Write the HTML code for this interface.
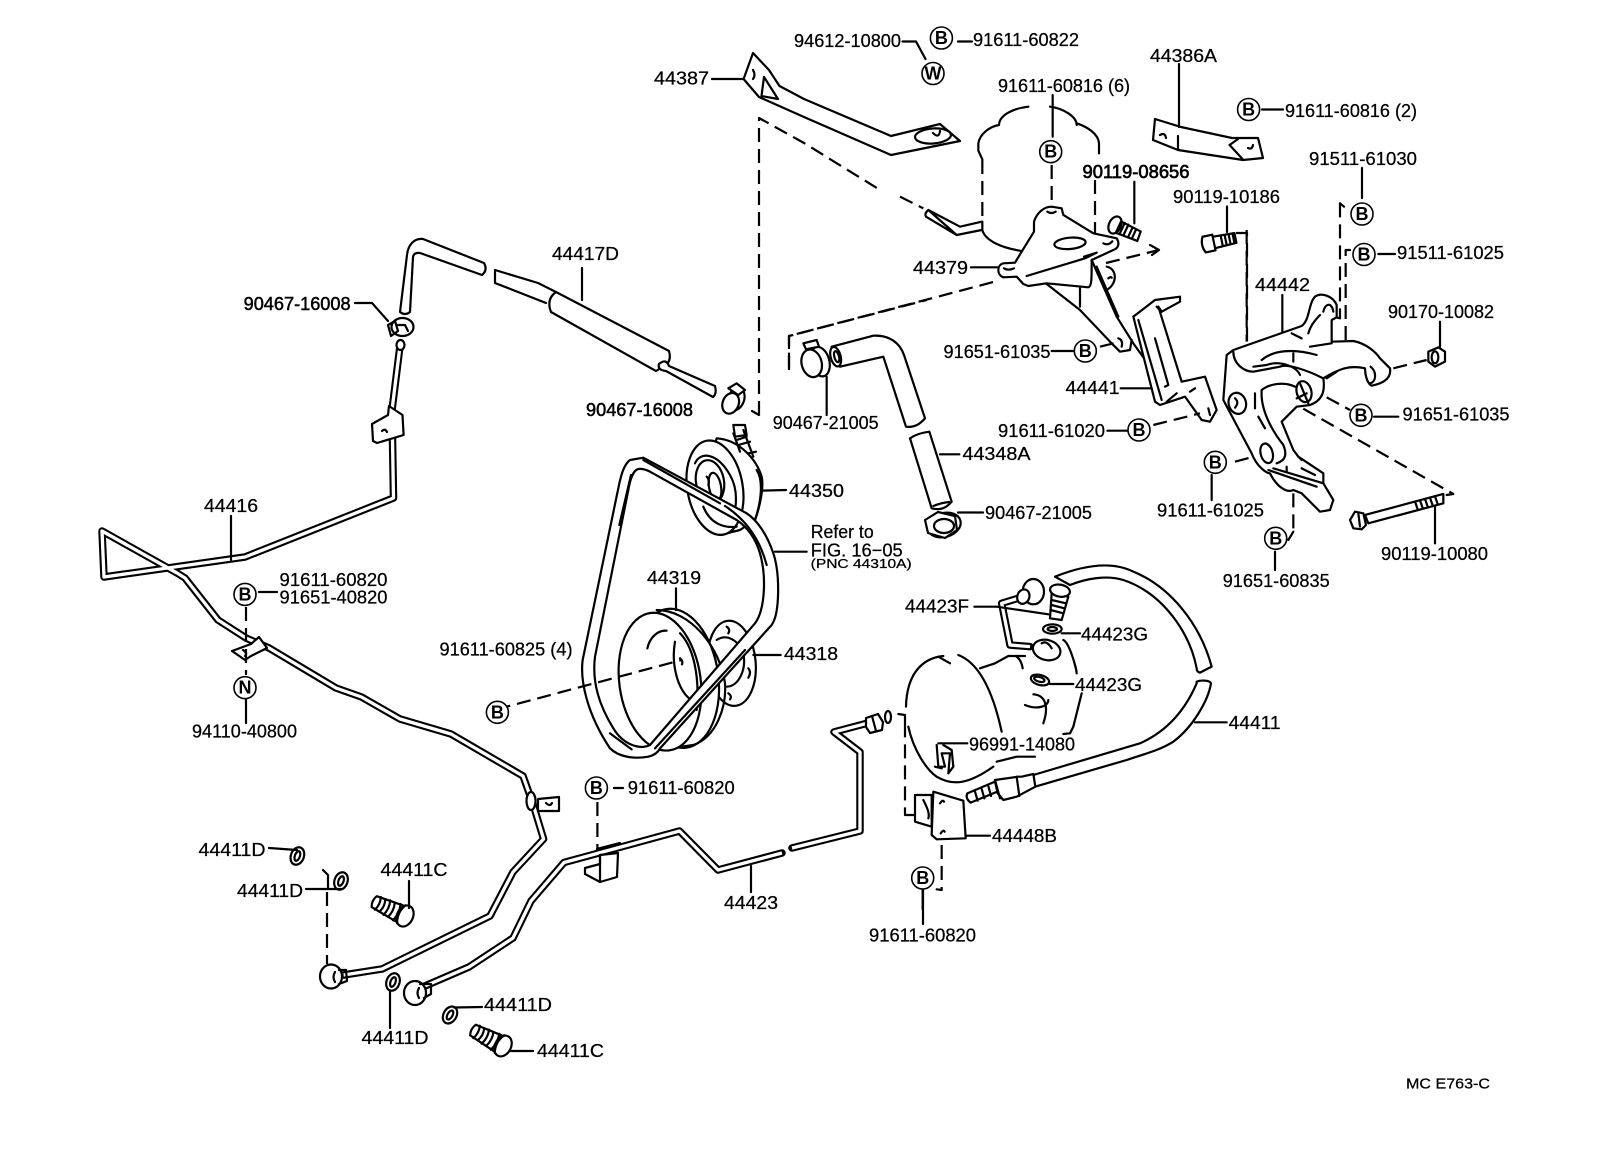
<!DOCTYPE html>
<html><head><meta charset="utf-8"><title>Power steering parts diagram</title>
<style>
html,body{margin:0;padding:0;background:#fff}
svg{display:block}
.g *{vector-effect:non-scaling-stroke;fill:none;stroke:#000;stroke-width:2.2;stroke-linejoin:round;stroke-linecap:round}
.g .w{fill:#fff}
.g .d{stroke-dasharray:14 7;stroke-linecap:butt}
.g .po{stroke-width:7.5}
.g .pi{stroke:#fff;stroke-width:3.3;stroke-linecap:butt}
.c{fill:#fff;stroke:#000;stroke-width:1.6}
text{font-family:"Liberation Sans",sans-serif;font-size:18.5px;fill:#000;stroke:#000;stroke-width:.25}
text.b{font-size:18px;font-weight:bold;text-anchor:middle;stroke:none}
text.s{font-size:12.5px}
</style></head><body>
<svg width="1608" height="1152" viewBox="0 0 1608 1152" xmlns="http://www.w3.org/2000/svg">
<rect width="1608" height="1152" fill="#fff"/>
<defs>
<g id="bolt" class="g">
<path class="w" d="M-34,-6 L-4,-9 L-4,9 L-34,6 Q-37,0 -34,-6Z"/>
<path d="M-30,-7 Q-27,0 -30,7 M-25,-7 Q-22,0 -25,7 M-20,-8 Q-17,0 -20,8 M-15,-8 Q-12,0 -15,8 M-9,-9 Q-6,0 -9,9"/>
<ellipse class="w" cx="0" cy="0" rx="8" ry="11"/>
<path d="M-4,-10 Q-9,0 -4,10"/>
</g>
<g id="washer" class="g"><ellipse class="w" rx="6.5" ry="9"/><ellipse rx="2.5" ry="5"/></g>
</defs>

<g class="g">
<path class="po" d="M400,346 L392,410 L393.5,498 L245,557 L104,577 L102,531 L177,573 L185,578 L218,620 L246,638 L269,648 L336,688 L361.5,697 L400,719 L451,734 L523,776 L533,804 L543.6,839 L513,872 L490,916 L382,969 L343.6,975"/>
<path class="pi" d="M400,346 L392,410 L393.5,498 L245,557 L104,577 L102,531 L177,573 L185,578 L218,620 L246,638 L269,648 L336,688 L361.5,697 L400,719 L451,734 L523,776 L533,804 L543.6,839 L513,872 L490,916 L382,969 L343.6,975"/>
<ellipse class="w" cx="400.5" cy="345" rx="4" ry="5"/>
<path class="po" d="M418,989 L469,967 L513,938 L531,901 L564,862.5 L679.5,831 L718,870 L782,853"/>
<path class="pi" d="M418,989 L469,967 L513,938 L531,901 L564,862.5 L679.5,831 L718,870 L782,853"/>
<path class="po" d="M792,848 L860,831 L860,752 L834,732 L868,723"/>
<path class="pi" d="M792,848 L860,831 L860,752 L834,732 L868,723"/>
<path class="w" d="M372,424 L388,415 L389,406 L402.5,415 L403.6,435 L377,443 L373,441Z"/><path d="M382,431 q3,-3 5,1"/>
<path class="w" d="M232,651 L251,644 L259,637 L267,648 L251,656 L245,660Z"/>
<path d="M243,650 q5,3 2,6"/>
<path class="w" d="M538,799 L559,797 L559,811 L538,811Z"/><ellipse class="w" cx="531" cy="801" rx="4.5" ry="9"/><path d="M546,803 q4,4 6,0"/>
<path class="w" d="M600,855 L618,853 L617,877 L600,882 L585,874 L585,868 L600,864Z"/><path d="M600,855 L600,882 M597,849 L620,843"/>
<ellipse class="w" cx="331" cy="976.5" rx="11" ry="12"/><path d="M335,972 q-3,5 0,10 M339,970 L346,970 L347,981 L339,984"/>
<ellipse class="w" cx="415" cy="993" rx="11" ry="12"/><path d="M419,988 q-3,5 0,10 M420,984 L431,984 L431,994 L424,998"/>
<use href="#washer" transform="translate(297.4,856) rotate(20)"/>
<use href="#washer" transform="translate(341,881) rotate(20)"/>
<use href="#washer" transform="translate(393,982) rotate(20)"/>
<use href="#washer" transform="translate(450,1015) rotate(30)"/>
<use href="#bolt" transform="translate(405,916) rotate(25)"/>
<use href="#bolt" transform="translate(503,1046) rotate(28)"/>
<path d="M355,303 L372,303 L388,321 M259,592 L277,592 M246,699 L246,723 M269,848 L297,850 M306,889 L341,889 M323,870 L328,875 L328,889 M390,991 L390,1028 M454,1007.5 L482,1007 M409,881 L409,908 M510,1051 L533,1051 M751,866 L751,892 M614,788 L623,788 M231,560 L231,516"/>
<path class="d" d="M246,607 L246,675 M327,892 L327,964 M597.4,802 L597.4,850"/>
<path class="w" d="M400,312 L407,255 C408,245 414,238 423,239 L484,263 Q488,270 482,275 L420,253 Q414,252 413,257 L410,312 Q405,316 400,312Z"/>
<path d="M495,270 L538,283 L556,292 M495,270 L495,283 L546,303"/>
<path class="w" d="M556,292 L669,351 Q672,362 664,366 L656,371 L551,312 Q546,299 556,292Z"/>
<path class="w" d="M659,364 Q666,358 669,366 L715,386 Q717,394 713,397 L666,371 Q657,370 659,364Z"/>
<path d="M582,268 L582,300"/>
<ellipse class="w" cx="402.5" cy="327" rx="11" ry="9"/><path d="M388,325 L395,321 L398,331 L391,336Z M397,325 L405,325 L408,331"/>
<path class="w" d="M743.6,79 L753,53 L769,70 L779.5,86 L804,99 L891,136 L940,124 L960,141 L891,155 L804,117 L759,97Z"/>
<path d="M753,70 q3,5 0,9 M764,77 L778,99 L761.5,96Z"/>
<ellipse cx="933" cy="136" rx="18" ry="7.5" transform="rotate(-4 933 136)"/><path d="M933,133 q6,6 7,-2"/>
<path d="M712,79 L743,79 M902.5,41.5 L916,41.5 L925.5,59 M958,41.5 L972,41.5 M1262,109.5 L1283,109.5 M1362,168 L1362,198 M1227,206.5 L1227,232"/>
<path class="d" d="M759,415 L759,118 L804,143 L880,190 M1236,233 L1247,233 L1247,343 M789,370 L789,336 L997,281 M1106,263 L1159,250"/>
<path d="M752,411 L759,415 M1159,250 L1150,245 M1159,250 L1152,255"/>
<path class="w" d="M1155,119 L1181,127 L1232,138 L1258,138 L1263,158 L1243,160 L1178,150 L1153,140Z"/>
<path d="M1178,136 L1178,149 M1229.6,145 L1242.5,159 M1229.6,145 L1238,139 M1160,135 q5,-3 6,3 M1248,148 q4,2 5,-3 M1179,64 L1179,127"/>
</g>

<g class="g" transform="translate(900,80) scale(.33333)">
<path d="M85,390 L170,465 L245,450 M85,390 L180,440 L245,425 M85,390 Q72,400 78,410 L170,465"/>
<path class="d" d="M0,350 L70,385"/>
<path d="M297,135 C298,105 340,85 385,80 M450,80 C490,85 530,110 530,135 M530,130 C560,140 595,160 597,190 L597,220 M297,135 C270,140 240,160 235,190 L235,212 L247,238"/>
<path class="d" d="M247,240 L247,425"/>
<path d="M247,425 L247,450 C255,480 300,505 380,515"/>
<path class="d" d="M585,300 L585,440"/>
<path d="M585,440 L585,465"/>
<path class="w" d="M455,380 C430,380 410,400 402,425 L402,455 L365,515 L345,548 L310,550 C290,555 290,585 310,592 L350,590 L370,612 L385,618 L440,610 L565,622 C575,620 575,600 575,540 L640,510 C655,505 660,490 650,475 L580,460 L490,405 L485,385 Z"/>
<path d="M380,588 L555,535 L590,518 M552,530 L590,518 M442,395 q12,8 25,0"/>
<ellipse class="w" cx="510" cy="490" rx="47" ry="17" transform="rotate(-5 510 490)"/>
<path d="M610,490 q15,8 27,-6 M312,565 q12,8 30,0"/>
<path d="M575,540 L650,710 L700,790 L750,860 M590,560 L655,710 M440,612 L540,690 L630,785 L660,815 L690,810 L695,780 M540,625 L540,680 M620,560 C650,565 655,610 620,630 M625,595 q6,-6 10,-2 M655,775 q15,5 10,25"/>
<path class="w" d="M700,710 L765,660 L840,650 L840,665 L785,695 L775,680 L845,905 L915,890 L950,990 L930,1025 L905,1020 L855,950 L780,975 L765,965Z"/>
<path d="M715,720 L785,960 M765,775 L805,915 L795,920 M770,680 L785,695 M800,965 L830,940 M870,935 L885,925 M925,985 L930,1005"/>
<path d="M458,45 L458,170 M213,562 L295,562 M455,813 L520,813 M622,1052 L685,1052 M662,925 L755,925 M703,305 L703,430"/>
<path class="d" d="M455,255 L455,380 M600,800 L660,785 M760,1035 L900,1000"/>
<g transform="translate(645,435) rotate(25) scale(3)"><path class="w" d="M0,-6 L26,-5 L27,5 L0,7Z"/><ellipse class="w" rx="6" ry="9"/><path d="M4,-6 L4,7 M8,-6 L8,6 M12,-6 L12,6 M17,-5 L17,5 M21,-5 L21,5"/></g>
<g transform="translate(930,490) rotate(-12) scale(3)"><path class="w" d="M0,-6 L26,-5 L26,5 L0,6Z"/><path class="w" d="M-6,-8 Q-10,0 -6,8 L4,8 L4,-8Z"/><path d="M12,-5 L12,5 M16,-5 L16,5 M20,-5 L20,5 M24,-5 L24,5"/></g>
</g>

<g class="g" transform="translate(1120,240) scale(.33333)">
<path class="d" d="M380,-30 L380,305 M660,-110 L660,235 M677,300 L677,30 M820,385 L920,360 M620,472 L690,510 M495,475 L1000,762 M345,665 L420,645 M520,760 L520,875"/>
<path d="M660,-110 L672,-100 M660,235 L640,230 M677,30 L690,30 M1000,762 L980,765 M520,875 L505,900"/>
<path class="w" d="M340,330 L545,258 C570,240 565,190 585,170 C605,155 640,170 650,195 L650,232 L635,240 L635,305 L700,303 C740,310 770,340 780,355 L810,385 C815,415 790,430 755,437 C740,430 735,400 735,385 C690,375 660,385 610,415 C615,450 610,480 570,495 L530,500 L485,545 L520,630 L535,650 L610,700 L610,730 L640,780 L630,810 L600,815 L545,760 L520,750 C500,760 470,740 450,700 C440,700 410,680 395,640 L310,480 L320,345Z"/>
<path d="M340,335 C340,370 370,395 400,395 L480,380 C500,370 560,390 610,415 M425,360 C460,330 520,325 590,345 M520,340 L520,365 M400,380 L440,375 C480,360 530,380 540,405 M570,320 L635,310 M565,280 C570,260 585,240 600,225 M515,280 L545,295 M610,215 C615,190 635,185 640,215 M620,415 L650,395 M752,380 C770,395 770,425 750,430"/>
<path d="M425,450 C420,520 470,590 490,615 C500,640 500,660 470,670 M425,450 C450,430 495,425 525,440 M405,460 L405,505 M415,530 L435,565 M535,650 L545,660 M445,690 L590,740 M460,685 L610,730 M545,685 L585,705 M500,680 L500,695"/>
<ellipse class="w" cx="352" cy="490" rx="26" ry="32" transform="rotate(-15 352 490)"/><path d="M345,475 q14,12 0,28"/>
<ellipse cx="552" cy="455" rx="22" ry="32" transform="rotate(-15 552 455)"/><path d="M540,430 L565,490 M530,475 L560,460"/>
<ellipse class="w" cx="440" cy="640" rx="18" ry="30" transform="rotate(-15 440 640)"/>
<path d="M487,165 L487,275 M960,245 L960,320 M762,530 L835,530 M275,705 L275,780 M465,935 L465,990 M945,795 L945,910 M775,42 L825,42"/>
<path class="w" d="M925,335 L955,322 L975,335 L975,365 L945,380 L925,365Z"/><ellipse cx="945" cy="352" rx="10" ry="18"/>
<path class="w" d="M735,825 L970,762 L970,790 L745,850Z"/>
<path class="w" d="M705,815 L730,820 L738,855 L725,868 L700,865 L690,840Z"/>
<path d="M715,820 L720,860 M885,785 L893,808 M900,781 L908,804 M915,777 L923,800 M930,773 L938,796 M945,769 L953,792"/>
</g>

<g class="g" transform="translate(560,420) scale(.33333)">
<path class="w" d="M470,55 C540,60 590,120 605,170 C612,200 600,260 585,300 L540,330 L480,345 L400,260Z"/>
<path d="M590,150 C610,180 605,240 585,300"/>
<ellipse class="w" cx="465" cy="203" rx="83" ry="143" transform="rotate(-10 465 203)"/>
<ellipse cx="450" cy="185" rx="42" ry="65" transform="rotate(-10 450 185)"/>
<ellipse cx="465" cy="200" rx="18" ry="42" transform="rotate(-10 465 200)"/>
<path d="M405,130 C420,95 470,95 510,165 C530,200 530,240 525,270 M430,260 C450,310 490,325 530,320 M440,170 q10,10 5,25"/>
<path d="M520,40 L540,95 M550,30 L580,110 M520,15 L555,15 L560,45 L525,50Z M530,60 L560,50 M535,75 L570,65 M565,100 L588,95"/>
<ellipse class="w" cx="515" cy="730" rx="72" ry="128" transform="rotate(-5 515 730)"/>
<path d="M470,660 C500,640 535,660 550,700 C560,750 535,800 500,800 M500,620 q12,8 5,20 M565,745 q10,12 0,28 M505,820 q12,8 5,18"/>
<ellipse class="w" cx="350" cy="775" rx="125" ry="210" transform="rotate(-8 350 775)"/>
<path d="M290,570 C390,570 480,680 495,790 C500,860 470,950 400,975 L330,985"/>
<ellipse class="w" cx="300" cy="785" rx="122" ry="208" transform="rotate(-8 300 785)"/>
<path d="M262,685 C270,650 295,630 320,632 M345,665 C335,720 345,810 400,845 M360,640 C400,680 420,770 410,870 M360,715 q10,8 6,18"/>
<path class="w" fill-rule="evenodd" d="M250,113 L210,120 C190,135 183,170 178,190 L68,720 C60,780 80,880 150,985 C175,1010 220,1018 265,1010 C285,1005 295,995 300,985 L635,615 C660,580 660,460 640,400 C620,340 590,300 560,280 Z M235,147 C220,150 210,180 205,210 L105,710 C95,790 120,860 160,925 C190,975 240,990 270,975 L585,610 C615,570 620,470 600,400 C585,350 560,320 530,300 L270,155 Q250,145 235,147 Z"/>
<path d="M213,165 L178,315 M150,940 L215,988 M495,258 C560,300 600,360 620,435 M285,985 L555,690 M250,120 L480,250"/>
<path class="d" d="M-190,868 L365,720"/>
<path d="M605,212 L678,210 M645,395 L740,395 M348,505 L348,570 M580,705 L662,705"/>
</g>

<g class="g" transform="translate(720,300) scale(.33333)">
<path class="w" d="M335,140 L460,107 C510,105 540,130 552,165 L615,355 Q590,385 558,380 L490,170 L360,200Z"/>
<ellipse class="w" cx="347" cy="170" rx="15" ry="30" transform="rotate(-15 347 170)"/>
<ellipse cx="350" cy="170" rx="7" ry="17" transform="rotate(-15 350 170)"/>
<path class="w" d="M570,415 Q590,400 628,395 L695,605 Q670,635 635,625Z"/>
<path d="M640,618 q25,-10 48,-12"/>
<ellipse class="w" cx="300" cy="185" rx="28" ry="45" transform="rotate(-15 300 185)"/>
<ellipse class="w" cx="275" cy="190" rx="30" ry="42" transform="rotate(-15 275 190)"/>
<path class="w" d="M250,130 L290,120 L297,140 L258,148Z"/>
<ellipse class="w" cx="48" cy="298" rx="24" ry="35" transform="rotate(22 48 298)"/>
<ellipse class="w" cx="32" cy="310" rx="24" ry="32" transform="rotate(22 32 310)"/>
<path class="w" d="M25,265 L50,250 L75,270 L55,285Z"/>
<path d="M320,230 L320,345 M660,463 L718,463"/>
<path class="d" d="M207,200 L207,108 L620,0"/>
</g>

<g class="g">
<ellipse class="w" cx="944" cy="525" rx="17" ry="12" transform="rotate(-15 944 525)"/>
<path class="w" d="M925,520 L938,512 L955,516 L957,530 L945,538 L928,533Z"/>
<ellipse cx="944" cy="526" rx="10" ry="7"/>
<path d="M958,512.5 L983,512.5"/>
<path class="w" d="M866,718 L878,714 L883,722 L882,730 L870,733 L866,727Z"/><path d="M872,716 L876,731"/>
<ellipse class="w" cx="888" cy="717" rx="3" ry="6"/>
<path d="M923,890 L923,924"/>
</g>

<g class="g" transform="translate(880,550) scale(.33333)">
<path d="M190,318 C120,325 80,380 78,470 M85,530 C100,600 140,660 170,680 C220,710 270,700 340,650 M235,315 C300,340 340,430 365,545 M175,320 L210,340"/>
<path d="M300,355 L345,340 L385,318 L435,318 M410,320 C425,330 428,355 428,355 M550,270 C570,280 590,360 590,370 M605,430 L580,530 L570,550 L550,552 M350,635 L410,620 L465,620 M435,465 C470,480 505,470 505,450 M460,433 C490,435 510,460 490,520"/>
<ellipse class="w" cx="480" cy="390" rx="28" ry="15" transform="rotate(15 480 390)"/><ellipse cx="478" cy="388" rx="16" ry="7" transform="rotate(15 478 388)"/>
<path d="M170,585 L175,650 L195,650 L185,610 L210,610 L205,670 L220,650 L215,600 L190,585 M165,650 L185,655"/>
<path class="w" d="M525,80 C600,50 690,30 760,65 C870,110 960,220 995,350 L960,368 Q950,365 950,355 C930,250 850,130 730,90 C680,75 620,85 570,105Z"/>
<path class="w" d="M950,395 C960,390 990,390 993,400 C985,450 940,530 880,575 C840,600 800,610 740,630 L465,710 L460,675 L780,580 C870,540 920,470 950,400Z"/>
<path class="w" d="M345,690 L415,680 L425,680 L460,672 L466,710 L410,740 L370,750 L345,720Z"/>
<path class="w" d="M262,730 L345,695 L352,725 L272,758 Q255,745 262,730Z"/>
<path d="M285,725 L293,752 M305,717 L313,745 M325,708 L333,738 M345,690 L360,745 M410,680 L418,738"/>
<path class="w" d="M105,735 L155,735 L155,830 L105,815Z"/>
<path class="w" d="M160,725 L250,752 L257,865 L170,868 L155,855Z"/>
<path d="M130,750 C140,770 150,790 145,805 M180,760 q8,-12 12,-5 M182,850 q8,-12 12,-5"/>
<path class="po" d="M430,140 L365,160 L390,285 L450,290"/><path class="pi" d="M430,140 L365,160 L390,285 L450,290"/>
<ellipse class="w" cx="500" cy="300" rx="42" ry="30" transform="rotate(15 500 300)"/><path d="M485,280 q15,-10 30,15"/>
<ellipse class="w" cx="460" cy="125" rx="32" ry="38"/><ellipse class="w" cx="430" cy="140" rx="18" ry="22" transform="rotate(20 430 140)"/>
<path class="w" d="M515,130 L565,140 L545,210 L510,205Z"/>
<path d="M515,150 L558,160 M515,165 L553,175 M512,180 L550,190"/>
<ellipse class="w" cx="540" cy="122" rx="30" ry="18" transform="rotate(10 540 122)"/>
<ellipse class="w" cx="517" cy="237" rx="28" ry="14"/><ellipse cx="517" cy="237" rx="14" ry="6"/>
<path d="M283,170 L350,170 L505,193 M545,250 L600,250 M510,402 L580,402 M175,580 L262,580 M258,857 L330,857 M945,517 L1040,517 M128,1020 L128,1078"/>
<path class="d" d="M185,885 L185,1020 M75,520 L75,795"/>
<path d="M185,1020 L170,1018 M75,795 L100,795 M55,492 L75,495 L75,520"/>
</g>

<g>
<ellipse class="c" cx="941.4" cy="38" rx="11" ry="11"/><text class="b" x="941.4" y="44">B</text>
<ellipse class="c" cx="933" cy="73.5" rx="11" ry="11"/><text class="b" x="933" y="79.5">W</text>
<ellipse class="c" cx="1248.6" cy="109.5" rx="11" ry="11"/><text class="b" x="1248.6" y="115.5">B</text>
<ellipse class="c" cx="1050.7" cy="151.7" rx="11" ry="11"/><text class="b" x="1050.7" y="157.7">B</text>
<ellipse class="c" cx="1362" cy="214" rx="11" ry="11"/><text class="b" x="1362" y="220">B</text>
<ellipse class="c" cx="1364" cy="254.5" rx="11" ry="11"/><text class="b" x="1364" y="260.5">B</text>
<ellipse class="c" cx="1085.3" cy="351" rx="11" ry="11"/><text class="b" x="1085.3" y="357">B</text>
<ellipse class="c" cx="1139" cy="430" rx="11" ry="11"/><text class="b" x="1139" y="436">B</text>
<ellipse class="c" cx="1361" cy="415.3" rx="11" ry="11"/><text class="b" x="1361" y="421.3">B</text>
<ellipse class="c" cx="1215.3" cy="462.3" rx="11" ry="11"/><text class="b" x="1215.3" y="468.3">B</text>
<ellipse class="c" cx="1275.7" cy="538.3" rx="11" ry="11"/><text class="b" x="1275.7" y="544.3">B</text>
<ellipse class="c" cx="245" cy="594.4" rx="11" ry="11"/><text class="b" x="245" y="600.4">B</text>
<ellipse class="c" cx="245" cy="687.7" rx="11" ry="11"/><text class="b" x="245" y="693.7">N</text>
<ellipse class="c" cx="497.4" cy="712.3" rx="11" ry="11"/><text class="b" x="497.4" y="718.3">B</text>
<ellipse class="c" cx="596.4" cy="788" rx="11" ry="11"/><text class="b" x="596.4" y="794">B</text>
<ellipse class="c" cx="922.7" cy="878" rx="11" ry="11"/><text class="b" x="922.7" y="884">B</text>
</g>

<g>
<text x="654" y="84.5" textLength="55" lengthAdjust="spacingAndGlyphs">44387</text>
<text x="552" y="260" textLength="67" lengthAdjust="spacingAndGlyphs">44417D</text>
<text x="243.6" y="310" textLength="107" lengthAdjust="spacingAndGlyphs" style="stroke-width:.5">90467-16008</text>
<text x="586" y="416" textLength="107" lengthAdjust="spacingAndGlyphs" style="stroke-width:.5">90467-16008</text>
<text x="204" y="512" textLength="54" lengthAdjust="spacingAndGlyphs">44416</text>
<text x="794" y="47" textLength="107" lengthAdjust="spacingAndGlyphs">94612-10800</text>
<text x="973" y="46" textLength="106" lengthAdjust="spacingAndGlyphs">91611-60822</text>
<text x="1150" y="62" textLength="67" lengthAdjust="spacingAndGlyphs">44386A</text>
<text x="998" y="92" textLength="132" lengthAdjust="spacingAndGlyphs">91611-60816 (6)</text>
<text x="1285" y="117" textLength="132" lengthAdjust="spacingAndGlyphs">91611-60816 (2)</text>
<text x="1309" y="165" textLength="108" lengthAdjust="spacingAndGlyphs">91511-61030</text>
<text x="1082.5" y="178" textLength="107" lengthAdjust="spacingAndGlyphs" style="stroke-width:.7">90119-08656</text>
<text x="1173" y="203" textLength="107" lengthAdjust="spacingAndGlyphs">90119-10186</text>
<text x="1397" y="259" textLength="107" lengthAdjust="spacingAndGlyphs">91511-61025</text>
<text x="913" y="274" textLength="55" lengthAdjust="spacingAndGlyphs">44379</text>
<text x="1255" y="291" textLength="55" lengthAdjust="spacingAndGlyphs">44442</text>
<text x="1388" y="318" textLength="106" lengthAdjust="spacingAndGlyphs">90170-10082</text>
<text x="943.5" y="358" textLength="107" lengthAdjust="spacingAndGlyphs">91651-61035</text>
<text x="1065.5" y="394" textLength="54" lengthAdjust="spacingAndGlyphs">44441</text>
<text x="1402.5" y="420.6" textLength="107" lengthAdjust="spacingAndGlyphs">91651-61035</text>
<text x="772.7" y="429" textLength="106" lengthAdjust="spacingAndGlyphs">90467-21005</text>
<text x="998" y="437" textLength="107" lengthAdjust="spacingAndGlyphs">91611-61020</text>
<text x="962.5" y="460" textLength="68" lengthAdjust="spacingAndGlyphs">44348A</text>
<text x="1157" y="516.7" textLength="107" lengthAdjust="spacingAndGlyphs">91611-61025</text>
<text x="985" y="519" textLength="107" lengthAdjust="spacingAndGlyphs">90467-21005</text>
<text x="789" y="497" textLength="55" lengthAdjust="spacingAndGlyphs">44350</text>
<text x="810.7" y="538" textLength="63" lengthAdjust="spacingAndGlyphs">Refer to</text>
<text x="810.7" y="556.7" textLength="92" lengthAdjust="spacingAndGlyphs">FIG. 16−05</text>
<text class="s" x="810.7" y="568" textLength="101" lengthAdjust="spacingAndGlyphs">(PNC 44310A)</text>
<text x="1381" y="560" textLength="107" lengthAdjust="spacingAndGlyphs">90119-10080</text>
<text x="1222.7" y="587" textLength="107" lengthAdjust="spacingAndGlyphs">91651-60835</text>
<text x="647" y="584" textLength="54" lengthAdjust="spacingAndGlyphs">44319</text>
<text x="279.5" y="586" textLength="108" lengthAdjust="spacingAndGlyphs">91611-60820</text>
<text x="279.5" y="603.5" textLength="108" lengthAdjust="spacingAndGlyphs">91651-40820</text>
<text x="905" y="612.7" textLength="64" lengthAdjust="spacingAndGlyphs">44423F</text>
<text x="1081" y="640.7" textLength="67" lengthAdjust="spacingAndGlyphs">44423G</text>
<text x="1075" y="691" textLength="67" lengthAdjust="spacingAndGlyphs">44423G</text>
<text x="784" y="660" textLength="54" lengthAdjust="spacingAndGlyphs">44318</text>
<text x="439.5" y="655.7" textLength="133" lengthAdjust="spacingAndGlyphs">91611-60825 (4)</text>
<text x="192" y="737.6" textLength="105" lengthAdjust="spacingAndGlyphs">94110-40800</text>
<text x="969" y="750.7" textLength="106" lengthAdjust="spacingAndGlyphs">96991-14080</text>
<text x="1228.6" y="729" textLength="52" lengthAdjust="spacingAndGlyphs">44411</text>
<text x="627.7" y="794" textLength="107" lengthAdjust="spacingAndGlyphs">91611-60820</text>
<text x="992" y="842" textLength="65" lengthAdjust="spacingAndGlyphs">44448B</text>
<text x="198.5" y="856" textLength="67" lengthAdjust="spacingAndGlyphs">44411D</text>
<text x="237" y="897" textLength="66" lengthAdjust="spacingAndGlyphs">44411D</text>
<text x="380.5" y="876" textLength="67" lengthAdjust="spacingAndGlyphs">44411C</text>
<text x="724" y="909" textLength="54" lengthAdjust="spacingAndGlyphs">44423</text>
<text x="869" y="941.5" textLength="107" lengthAdjust="spacingAndGlyphs">91611-60820</text>
<text x="484" y="1011" textLength="68" lengthAdjust="spacingAndGlyphs">44411D</text>
<text x="361.5" y="1044" textLength="67" lengthAdjust="spacingAndGlyphs">44411D</text>
<text x="537" y="1057" textLength="67" lengthAdjust="spacingAndGlyphs">44411C</text>
<text x="1406" y="1088.5" textLength="84" lengthAdjust="spacingAndGlyphs" style="font-size:15px">MC E763-C</text>
</g>
</svg>
</body></html>
